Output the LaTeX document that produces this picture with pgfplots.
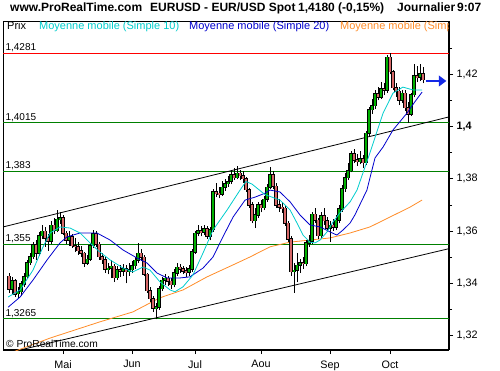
\documentclass[border=0pt]{standalone}
\usepackage{pgfplots}
\pgfplotsset{compat=1.18}
\usepackage{pgfplotstable}
\usepackage{fontspec}
\setmainfont{Liberation Sans}
\usetikzlibrary{arrows.meta}
\definecolor{cgreen}{RGB}{0,176,0}
\definecolor{cred}{RGB}{214,104,104}
\definecolor{lgreen}{RGB}{0,128,0}
\definecolor{macyan}{RGB}{0,204,204}
\definecolor{mablue}{RGB}{0,0,204}
\definecolor{maorange}{RGB}{255,140,40}
\definecolor{arrblue}{RGB}{20,40,230}

\pgfplotstableread{
x o h l c
-17 1.3378 1.3425 1.3360 1.3410
-15 1.3360 1.3385 1.3345 1.3368
-14 1.3368 1.3410 1.3350 1.3398
-13 1.3398 1.3440 1.3385 1.3425
-12 1.3425 1.3490 1.3418 1.3480
-11 1.3480 1.3515 1.3470 1.3502
-10 1.3502 1.3560 1.3495 1.3548
-8 1.3515 1.3595 1.3505 1.3582
-7 1.3582 1.3622 1.3570 1.3600
-4 1.3562 1.3640 1.3552 1.3622
-2 1.3602 1.3680 1.3595 1.3645
-1 1.3645 1.3672 1.3628 1.3650
2 1.3565 1.3600 1.3545 1.3578
8 1.3478 1.3510 1.3470 1.3492
9 1.3492 1.3555 1.3485 1.3545
10 1.3545 1.3605 1.3535 1.3590
15 1.3455 1.3480 1.3435 1.3458
16 1.3458 1.3488 1.3420 1.3466
18 1.3422 1.3468 1.3415 1.3452
20 1.3448 1.3475 1.3430 1.3455
22 1.3445 1.3480 1.3430 1.3452
23 1.3452 1.3485 1.3440 1.3468
24 1.3468 1.3500 1.3455 1.3488
25 1.3488 1.3555 1.3478 1.3515
31 1.3305 1.3325 1.3262 1.3310
32 1.3310 1.3390 1.3300 1.3380
33 1.3380 1.3425 1.3372 1.3412
34 1.3412 1.3435 1.3395 1.3420
37 1.3395 1.3455 1.3385 1.3440
38 1.3440 1.3478 1.3430 1.3462
42 1.3442 1.3470 1.3430 1.3455
43 1.3455 1.3532 1.3445 1.3520
44 1.3520 1.3600 1.3512 1.3592
45 1.3592 1.3625 1.3580 1.3602
47 1.3595 1.3625 1.3585 1.3608
49 1.3580 1.3615 1.3565 1.3605
50 1.3605 1.3760 1.3598 1.3750
53 1.3742 1.3790 1.3735 1.3768
54 1.3768 1.3800 1.3755 1.3782
55 1.3782 1.3812 1.3770 1.3790
56 1.3790 1.3835 1.3780 1.3815
58 1.3805 1.3848 1.3798 1.3822
64 1.3640 1.3690 1.3612 1.3662
65 1.3662 1.3712 1.3650 1.3700
67 1.3690 1.3735 1.3680 1.3722
68 1.3722 1.3780 1.3712 1.3768
69 1.3768 1.3845 1.3760 1.3815
77 1.3445 1.3480 1.3365 1.3450
78 1.3450 1.3515 1.3405 1.3470
79 1.3470 1.3495 1.3440 1.3480
81 1.3475 1.3565 1.3465 1.3555
82 1.3555 1.3585 1.3540 1.3562
83 1.3562 1.3675 1.3552 1.3665
86 1.3582 1.3672 1.3575 1.3658
89 1.3612 1.3640 1.3558 1.3622
91 1.3615 1.3660 1.3605 1.3642
92 1.3642 1.3700 1.3630 1.3685
93 1.3685 1.3775 1.3675 1.3762
94 1.3762 1.3822 1.3750 1.3805
95 1.3805 1.3860 1.3795 1.3832
96 1.3832 1.3905 1.3825 1.3895
99 1.3866 1.3905 1.3855 1.3876
101 1.3862 1.3985 1.3852 1.3975
102 1.3975 1.4075 1.3965 1.4065
103 1.4065 1.4105 1.4050 1.4080
104 1.4080 1.4140 1.4068 1.4125
106 1.4112 1.4170 1.4105 1.4145
108 1.4140 1.4275 1.4130 1.4265
113 1.4100 1.4140 1.4090 1.4128
116 1.4048 1.4130 1.4040 1.4122
117 1.4122 1.4240 1.4112 1.4195
119 1.4188 1.4238 1.4175 1.4202
}\upT

\pgfplotstableread{
x o h l c
-18 1.3428 1.3440 1.3365 1.3378
-16 1.3410 1.3418 1.3348 1.3360
-9 1.3548 1.3565 1.3490 1.3515
-6 1.3600 1.3615 1.3540 1.3572
-5 1.3572 1.3590 1.3525 1.3562
-3 1.3622 1.3650 1.3590 1.3602
0 1.3650 1.3660 1.3585 1.3592
1 1.3592 1.3600 1.3550 1.3565
3 1.3578 1.3590 1.3535 1.3545
4 1.3545 1.3575 1.3520 1.3540
5 1.3540 1.3560 1.3510 1.3525
6 1.3525 1.3545 1.3500 1.3515
7 1.3515 1.3522 1.3462 1.3478
11 1.3590 1.3600 1.3540 1.3550
12 1.3550 1.3560 1.3490 1.3502
13 1.3502 1.3515 1.3475 1.3490
14 1.3490 1.3500 1.3440 1.3455
17 1.3466 1.3475 1.3405 1.3422
19 1.3452 1.3470 1.3425 1.3448
21 1.3455 1.3470 1.3400 1.3445
26 1.3515 1.3530 1.3485 1.3500
27 1.3500 1.3510 1.3428 1.3435
28 1.3435 1.3440 1.3365 1.3372
29 1.3372 1.3385 1.3330 1.3342
30 1.3342 1.3352 1.3290 1.3305
35 1.3420 1.3430 1.3392 1.3408
36 1.3408 1.3420 1.3380 1.3395
39 1.3462 1.3475 1.3440 1.3455
40 1.3455 1.3468 1.3435 1.3448
41 1.3448 1.3462 1.3425 1.3442
46 1.3602 1.3618 1.3580 1.3595
48 1.3608 1.3620 1.3570 1.3580
51 1.3750 1.3785 1.3730 1.3745
52 1.3745 1.3770 1.3725 1.3742
57 1.3815 1.3840 1.3795 1.3805
59 1.3822 1.3835 1.3795 1.3812
60 1.3812 1.3830 1.3785 1.3800
61 1.3800 1.3808 1.3750 1.3758
62 1.3758 1.3765 1.3690 1.3700
63 1.3700 1.3710 1.3630 1.3640
66 1.3700 1.3720 1.3672 1.3690
70 1.3815 1.3830 1.3760 1.3772
71 1.3772 1.3785 1.3690 1.3700
72 1.3700 1.3722 1.3675 1.3692
73 1.3692 1.3710 1.3670 1.3688
74 1.3688 1.3698 1.3620 1.3630
75 1.3630 1.3640 1.3560 1.3570
76 1.3570 1.3580 1.3430 1.3445
80 1.3480 1.3500 1.3455 1.3475
84 1.3665 1.3690 1.3630 1.3642
85 1.3642 1.3650 1.3570 1.3582
87 1.3658 1.3690 1.3625 1.3640
88 1.3640 1.3655 1.3598 1.3612
90 1.3622 1.3645 1.3600 1.3615
97 1.3895 1.3915 1.3860 1.3872
98 1.3872 1.3895 1.3850 1.3866
100 1.3876 1.3890 1.3840 1.3862
105 1.4125 1.4150 1.4100 1.4112
107 1.4145 1.4165 1.4120 1.4140
109 1.4265 1.4281 1.4200 1.4210
110 1.4210 1.4218 1.4140 1.4148
111 1.4148 1.4165 1.4115 1.4135
112 1.4135 1.4150 1.4082 1.4100
114 1.4128 1.4140 1.4060 1.4072
115 1.4072 1.4095 1.4014 1.4048
118 1.4195 1.4230 1.4170 1.4188
120 1.4202 1.4228 1.4165 1.4180
}\dnT

\pgfplotsset{
  wick/.style={draw=none, no markers, forget plot,
    error bars/.cd, y dir=plus, y explicit, error mark=none,
    error bar style={draw=black, line width=0.7pt, solid}},
  bodyout/.style={draw=none, no markers, forget plot,
    error bars/.cd, y dir=both, y explicit, error mark=none,
    error bar style={draw=black, line width=3.2pt, solid, shorten <=-0.6pt, shorten >=-0.6pt}},
  bodyin/.style={draw=none, no markers, forget plot,
    error bars/.cd, y dir=both, y explicit, error mark=none,
    error bar style={draw=#1, line width=2.0pt, solid}},
}

\begin{document}
\begin{tikzpicture}[x=1pt,y=1pt]
\useasboundingbox (0,0) rectangle (500,370);
\begin{axis}[
  at={(3pt,20pt)}, anchor=south west,
  scale only axis, width=446pt, height=329pt,
  xmin=-20, xmax=128.67, ymin=1.31453, ymax=1.44039,
  axis x line*=bottom, axis y line*=right,
  axis line style={line width=1.6pt, -},
  xtick={0,23,44,66,89,109},
  xticklabels={Mai,Jun,Jul,Aou,Sep,Oct},
  ytick={1.32,1.34,1.36,1.38,1.40,1.42},
  yticklabels={{1,32},{1,34},{1,36},{1,38},{\textbf{1,4}},{1,42}},
  minor ytick={1.33,1.35,1.37,1.39,1.41,1.43},
  tick align=outside, major tick length=4pt, minor tick length=3pt,
  tick style={black, line width=0.8pt},
  tick label style={font=\fontsize{10.8}{12}\selectfont},
  xticklabel style={yshift=-3pt},
  clip=true,
]
% frame left/top
\draw[line width=0.8pt] (rel axis cs:0,0) -- (rel axis cs:0,1) -- (rel axis cs:1,1);
% horizontal levels
\addplot[red, line width=0.8pt, forget plot] coordinates {(-20,1.4281) (128.67,1.4281)};
\addplot[lgreen, line width=0.8pt, forget plot] coordinates {(-20,1.4015) (128.67,1.4015)};
\addplot[lgreen, line width=0.8pt, forget plot] coordinates {(-20,1.383) (128.67,1.383)};
\addplot[lgreen, line width=0.8pt, forget plot] coordinates {(-20,1.355) (128.67,1.355)};
\addplot[lgreen, line width=0.8pt, forget plot] coordinates {(-20,1.3265) (128.67,1.3265)};
\node[anchor=base west, inner sep=0, font=\fontsize{10}{12}\selectfont, yshift=2.6pt] at (axis cs:-19.2,1.4281) {1,4281};
\node[anchor=base west, inner sep=0, font=\fontsize{10}{12}\selectfont, yshift=2.6pt] at (axis cs:-19.2,1.4015) {1,4015};
\node[anchor=base west, inner sep=0, font=\fontsize{10}{12}\selectfont, yshift=2.6pt] at (axis cs:-19.2,1.383) {1,383};
\node[anchor=base west, inner sep=0, font=\fontsize{10}{12}\selectfont, yshift=2.6pt] at (axis cs:-19.2,1.355) {1,355};
\node[anchor=base west, inner sep=0, font=\fontsize{10}{12}\selectfont, yshift=2.6pt] at (axis cs:-19.2,1.3265) {1,3265};
% trend channel
\addplot[black, line width=0.8pt, forget plot] coordinates {(-20,1.3616) (128.67,1.4037)};
\addplot[black, line width=0.8pt, forget plot] coordinates {(-20,1.3130) (128.67,1.3533)};
% orange MA
\addplot[maorange, line width=0.8pt, forget plot] coordinates {
(-18,1.3132) (-15,1.3145) (-4.3,1.3191) (12.3,1.3253) (23.3,1.3291) (32.3,1.3345)
(40,1.3375) (48,1.3425) (56.7,1.3471) (62.3,1.3501) (69,1.3540) (75.7,1.3558)
(82.3,1.3566) (89,1.3574) (95.7,1.3593) (102.3,1.3616) (109,1.3654) (115.7,1.3692) (119.7,1.3719)};
% candles
\addplot[wick] table[x=x, y=l, y error plus expr=\thisrow{h}-\thisrow{l}] {\upT};
\addplot[wick] table[x=x, y=l, y error plus expr=\thisrow{h}-\thisrow{l}] {\dnT};
\addplot[bodyout] table[x=x, y expr=(\thisrow{o}+\thisrow{c})/2, y error expr=abs(\thisrow{c}-\thisrow{o})/2] {\upT};
\addplot[bodyout] table[x=x, y expr=(\thisrow{o}+\thisrow{c})/2, y error expr=abs(\thisrow{c}-\thisrow{o})/2] {\dnT};
\addplot[bodyin=cgreen] table[x=x, y expr=(\thisrow{o}+\thisrow{c})/2, y error expr=abs(\thisrow{c}-\thisrow{o})/2] {\upT};
\addplot[bodyin=cred] table[x=x, y expr=(\thisrow{o}+\thisrow{c})/2, y error expr=abs(\thisrow{c}-\thisrow{o})/2] {\dnT};
% SMA 20
\addplot[mablue, line width=0.8pt, forget plot] coordinates {
(-18.3,1.3309) (-14.3,1.3348) (-10,1.3413) (-5.3,1.3490) (-1,1.3555) (1.3,1.3578)
(5.7,1.3593) (11.3,1.3593) (15.7,1.3566) (20,1.3528) (24.7,1.3497) (28,1.3478)
(31.3,1.3440) (34.7,1.3421) (39,1.3421) (42.3,1.3425) (46.7,1.3459) (50,1.3501)
(53.3,1.3578) (56.7,1.3654) (60.7,1.3719) (64,1.3730) (67.3,1.3745) (69,1.3757)
(72.3,1.3750) (75.7,1.3712) (79,1.3662) (82.3,1.3624) (85.7,1.3616) (89,1.3597)
(91.3,1.3585) (93.3,1.3604) (95.7,1.3631) (97.3,1.3662) (101.3,1.3757) (104,1.3880)
(106.7,1.3922) (110,1.3987) (114.7,1.4052) (117.3,1.4095) (119.7,1.4132)};
% SMA 10
\addplot[macyan, line width=0.8pt, forget plot] coordinates {
(-18.3,1.3348) (-14.3,1.3375) (-10,1.3451) (-6.7,1.3539) (-4.3,1.3593) (-1,1.3616)
(2.3,1.3612) (5.7,1.3593) (9,1.3555) (12.3,1.3520) (15.7,1.3490) (20,1.3459)
(23.3,1.3444) (26.7,1.3463) (29,1.3451) (32.3,1.3406) (35.7,1.3375) (37.3,1.3368)
(40,1.3387) (43.3,1.3432) (46.7,1.3517) (50,1.3604) (54.7,1.3681) (59,1.3757)
(61,1.3790) (63,1.3780) (67.3,1.3740) (72.3,1.3719) (75.7,1.3681) (78,1.3631)
(80,1.3585) (82.3,1.3558) (84,1.3555) (85.7,1.3566) (88,1.3597) (90,1.3635)
(92.3,1.3670) (95.7,1.3712) (98,1.3757) (102.3,1.3899) (106.7,1.4052) (110,1.4128)
(113.3,1.4151) (116.7,1.4140) (119.7,1.4140)};
% arrow
\addplot[arrblue, line width=2.2pt, forget plot, -{Triangle[length=7.5pt, width=10.5pt]}] coordinates {(120.9,1.41744) (127.8,1.41744)};
\end{axis}
% title
\begin{scope}[font=\bfseries\fontsize{12}{14}\selectfont]
\node[anchor=base west, inner sep=0] at (10,358.3) {www.ProRealTime.com};
\node[anchor=base west, inner sep=0] at (150,358.3) {EURUSD - EUR/USD Spot};
\node[anchor=base west, inner sep=0] at (298,358.3) {1,4180 (-0,15\%)};
\node[anchor=base west, inner sep=0] at (397,358.3) {Journalier};
\node[anchor=base west, inner sep=0] at (457,358.3) {9:07};
\end{scope}
% legend row
\begin{scope}[font=\fontsize{11}{12}\selectfont]
\node[anchor=base west, inner sep=0] at (7,340.5) {Prix};
\node[anchor=base west, inner sep=0, text=macyan] at (39,340.5) {Moyenne mobile (Simple 10)};
\node[anchor=base west, inner sep=0, text=mablue] at (189,340.5) {Moyenne mobile (Simple 20)};
\begin{scope}
\clip (330,330) rectangle (448,349);
\node[anchor=base west, inner sep=0, text=maorange] at (340,340.5) {Moyenne mobile (Simple 100)};
\end{scope}
\end{scope}
\node[anchor=base west, inner sep=0, font=\fontsize{10.2}{12}\selectfont] at (6,22.5) {\textcopyright\ ProRealTime.com};
\end{tikzpicture}
\end{document}
